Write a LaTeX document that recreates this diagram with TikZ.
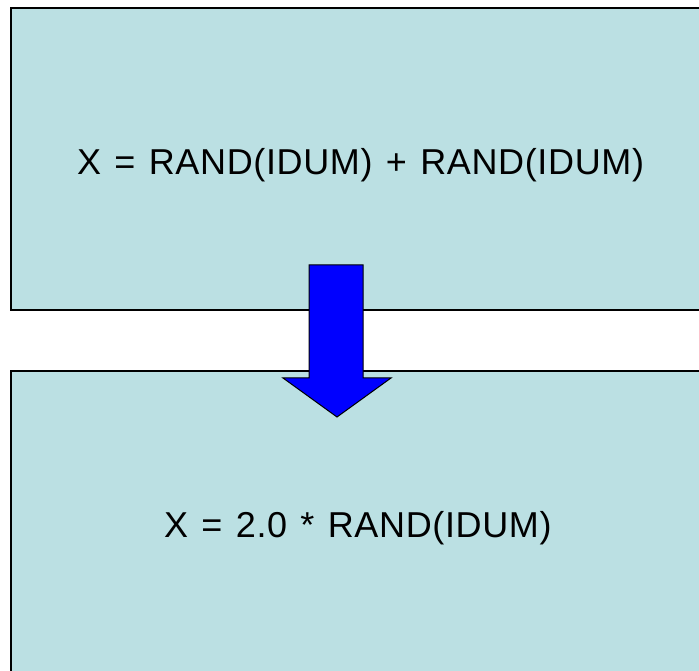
\documentclass[tikz,border=0pt]{standalone}
\usepackage{fontspec}
\setmainfont{Liberation Sans}[LetterSpace=1.8,WordSpace=1.25]
\definecolor{boxfill}{HTML}{BBE0E3}
\definecolor{arrowblue}{HTML}{0000FF}
\begin{document}
\begin{tikzpicture}[x=1pt,y=1pt,
  panel/.style={draw=black,line width=2pt,fill=boxfill},
  formula/.style={anchor=base west,inner sep=0pt,font=\fontsize{36}{40}\selectfont},
  blockarrow/.style={draw=black,line width=1pt,fill=arrowblue,line join=miter}]
  \useasboundingbox (0,0) rectangle (699,670);
  % the two statement panels (they run off the right and bottom edges)
  \draw[panel] (11,662) rectangle (730,360);
  \draw[panel] (11,299) rectangle (730,-40);
  % formulas
  \node[formula] (top) at (77,495) {X = RAND(IDUM) + RAND(IDUM)};
  \node[formula] (bot) at (164,132) {X = 2.0 * RAND(IDUM)};
  % block arrow from the first panel down into the second
  \draw[blockarrow] (309,405) -- (363,405) -- (363,292) -- (391,292)
    -- (337,253) -- (283,292) -- (309,292) -- cycle;
\end{tikzpicture}
\end{document}
